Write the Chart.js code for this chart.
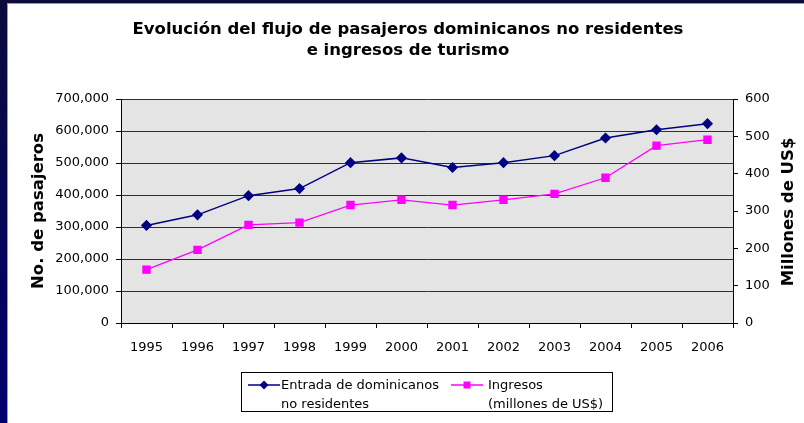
<!DOCTYPE html>
<html>
<head>
<meta charset="utf-8">
<script src="https://cdn.jsdelivr.net/npm/chart.js@4/dist/chart.umd.min.js"></script>
<style>
  html, body { margin:0; padding:0; background:#fff; }
  #wrap { position:relative; width:804px; height:423px; overflow:hidden; background:#fff; font-family:"DejaVu Sans", Verdana, sans-serif; }
  #navyL { position:absolute; left:0; top:0; width:7px; height:423px; background:linear-gradient(#0b0b3c, #00006e); }
  #navyT { position:absolute; left:0; top:0; width:804px; height:3px; background:#0b0b3c; }
  #grayL { position:absolute; left:7px; top:3px; width:1px; height:420px; background:#9a9a9a; }
  #grayT { position:absolute; left:7px; top:3px; width:797px; height:1px; background:#9a9a9a; }
  canvas { position:absolute; left:0; top:0; }
  #title { position:absolute; left:0; top:18px; width:816px; text-align:center; font-weight:bold; font-size:16.5px; line-height:21px; color:#000; }
  #rtitle { position:absolute; left:688px; top:201px; width:200px; height:22px; line-height:22px; text-align:center; font-weight:bold; font-size:16.5px; color:#000; transform:rotate(-90deg); transform-origin:50% 50%; white-space:nowrap; }
  #legend { position:absolute; left:241px; top:372px; width:370px; height:38px; border:1px solid #000; font-size:13px; color:#000; }
  .item { position:absolute; top:2px; line-height:19px; }
  .item svg { position:absolute; left:0; top:3px; }
  .item .txt { position:absolute; white-space:nowrap; }
</style>
</head>
<body>
<div id="wrap">
  <div id="navyL"></div><div id="navyT"></div><div id="grayL"></div><div id="grayT"></div>
  <canvas id="c" width="804" height="423"></canvas>
  <div id="title">Evolución del flujo de pasajeros dominicanos no residentes<br>e ingresos de turismo</div>
  <div id="rtitle">Millones de US$</div>
  <div id="legend">
    <div class="item" style="left:6px;">
      <svg width="32" height="14"><line x1="0" y1="7" x2="32" y2="7" stroke="#000080" stroke-width="1.5"/><polygon points="16,2.5 20.5,7 16,11.5 11.5,7" fill="#000080"/></svg>
      <div class="txt" style="left:33px;">Entrada de dominicanos<br>no residentes</div>
    </div>
    <div class="item" style="left:209px;">
      <svg width="32" height="14"><line x1="0" y1="7" x2="32" y2="7" stroke="#ff00ff" stroke-width="1.5"/><rect x="12.5" y="3.5" width="7" height="7" fill="#ff00ff"/></svg>
      <div class="txt" style="left:37px;">Ingresos<br>(millones de US$)</div>
    </div>
  </div>
</div>
<script>
const years = ['1995','1996','1997','1998','1999','2000','2001','2002','2003','2004','2005','2006'];
const passengers = [305000, 338000, 398000, 420000, 501000, 516000, 486000, 501000, 523000, 578000, 604000, 623000];
const revenue = [143, 196, 263, 269, 316, 330, 316, 330, 346, 389, 475, 491];
const leftMax = 700000, leftStep = 100000;
const rightMax = 600, rightStep = 100;
const seriesNames = ['Entrada de dominicanos no residentes', 'Ingresos (millones de US$)'];
const leftTitle = 'No. de pasajeros';

const fmt = v => String(v).replace(/\B(?=(\d{3})+(?!\d))/g, ',');
const FONT = '"DejaVu Sans", Verdana, sans-serif';

const plotBg = {
  id: 'plotBg',
  beforeDraw(chart) {
    const {ctx, chartArea: a} = chart;
    ctx.save();
    ctx.fillStyle = '#e4e4e4';
    ctx.fillRect(a.left, a.top, a.right - a.left, a.bottom - a.top);
    ctx.restore();
  }
};

new Chart(document.getElementById('c'), {
  type: 'line',
  data: {
    labels: years,
    datasets: [
      { label: seriesNames[0], data: passengers, yAxisID: 'y',
        borderColor: '#000080', backgroundColor: '#000080', borderWidth: 1.5,
        pointStyle: 'rectRot', pointRadius: 4.5, pointHoverRadius: 4.5, tension: 0 },
      { label: seriesNames[1], data: revenue, yAxisID: 'y1',
        borderColor: '#ff00ff', backgroundColor: '#ff00ff', borderWidth: 1.3,
        pointStyle: 'rect', pointRadius: 5, pointHoverRadius: 5, tension: 0 }
    ]
  },
  options: {
    responsive: false,
    animation: false,
    events: [],
    layout: { padding: { top: 99, left: 0, right: 0, bottom: 0 } },
    plugins: { legend: { display: false }, title: { display: false }, tooltip: { enabled: false } },
    scales: {
      x: {
        type: 'category', offset: true,
        grid: { offset: true, drawOnChartArea: false, tickLength: 5, color: '#000', lineWidth: 1 },
        border: { color: '#000', width: 1 },
        ticks: { color: '#000', font: { family: FONT, size: 13 }, padding: 12, maxRotation: 0, autoSkip: false },
        afterFit: s => { s.height = 100; }
      },
      y: {
        position: 'left', min: 0, max: leftMax,
        ticks: { stepSize: leftStep, color: '#000', font: { family: FONT, size: 13 }, padding: 7, callback: v => fmt(v) },
        grid: { color: '#303030', tickColor: '#000', tickLength: 5, lineWidth: 1 },
        border: { color: '#000', width: 1 },
        title: { display: true, text: leftTitle, color: '#000', font: { family: FONT, size: 16.5, weight: 'bold' }, padding: { top: 29, bottom: 0 } },
        afterFit: s => { s.width = 121; }
      },
      y1: {
        position: 'right', min: 0, max: rightMax,
        ticks: { stepSize: rightStep, color: '#000', font: { family: FONT, size: 13 }, padding: 7 },
        grid: { drawOnChartArea: false, color: '#000', tickLength: 5 },
        border: { color: '#000', width: 1 },
        afterFit: s => { s.width = 71; }
      }
    }
  },
  plugins: [plotBg]
});
</script>
</body>
</html>
